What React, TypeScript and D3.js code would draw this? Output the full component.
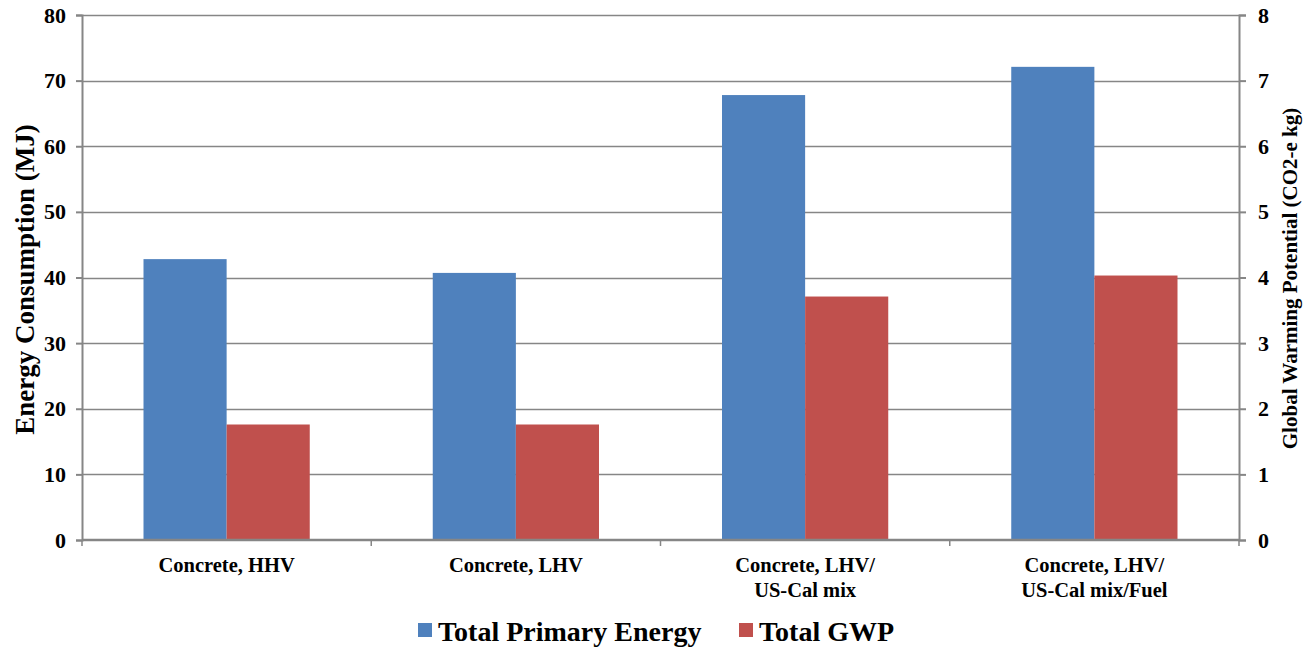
import { useEffect, useRef } from 'react';
import * as d3 from 'd3';

const categories = [
  ['Concrete, HHV'],
  ['Concrete, LHV'],
  ['Concrete, LHV/', 'US-Cal mix'],
  ['Concrete, LHV/', 'US-Cal mix/Fuel'],
];
const energyValues = [42.8, 40.7, 67.8, 72.1];
const gwpValues = [1.76, 1.76, 3.71, 4.03];
const leftTicks = [0, 10, 20, 30, 40, 50, 60, 70, 80];
const rightTicks = [0, 1, 2, 3, 4, 5, 6, 7, 8];

const WIDTH = 1311;
const HEIGHT = 651;
const BLUE = '#4F81BD';
const RED = '#C0504D';
const GRID = '#868686';
const FONT = 'Liberation Serif';

export default function App() {
  const svgRef = useRef<SVGSVGElement>(null);

  useEffect(() => {
    if (!svgRef.current) return;
    const svg = d3.select(svgRef.current);
    svg.selectAll('*').remove();

    const margin = { top: 15, right: 72, bottom: 111, left: 82 };
    const innerWidth = WIDTH - margin.left - margin.right;
    const innerHeight = HEIGHT - margin.top - margin.bottom;
    const g = svg.append('g').attr('transform', `translate(${margin.left},${margin.top})`);

    const idx = categories.map((_, i) => String(i));
    const x0 = d3.scaleBand().domain(idx).range([0, innerWidth]).paddingInner(0).paddingOuter(0);
    const groupPad = 61.5;
    const barW = (x0.bandwidth() - groupPad * 2) / 2;

    const yLeft = d3.scaleLinear().domain([0, 80]).range([innerHeight, 0]);
    const yRight = d3.scaleLinear().domain([0, 8]).range([innerHeight, 0]);

    // gridlines
    g.selectAll('.grid')
      .data(leftTicks.filter((d) => d > 0))
      .enter()
      .append('line')
      .attr('x1', 0)
      .attr('x2', innerWidth)
      .attr('y1', (d) => Math.round(yLeft(d)) + 0.5)
      .attr('y2', (d) => Math.round(yLeft(d)) + 0.5)
      .attr('stroke', GRID)
      .attr('stroke-width', 1.5);

    // bars
    energyValues.forEach((v, i) => {
      const bx = (x0(String(i)) as number) + groupPad;
      g.append('rect')
        .attr('x', bx)
        .attr('y', yLeft(v))
        .attr('width', barW)
        .attr('height', innerHeight - yLeft(v))
        .attr('fill', BLUE);
      const gv = gwpValues[i];
      g.append('rect')
        .attr('x', bx + barW)
        .attr('y', yRight(gv))
        .attr('width', barW)
        .attr('height', innerHeight - yRight(gv))
        .attr('fill', RED);
    });

    // left axis
    const leftAxis = g.append('g').call(
      d3.axisLeft(yLeft).tickValues(leftTicks).tickSize(6).tickPadding(10).tickFormat((d) => String(d))
    );
    // right axis
    const rightAxis = g
      .append('g')
      .attr('transform', `translate(${innerWidth},0)`)
      .call(d3.axisRight(yRight).tickValues(rightTicks).tickSize(7).tickPadding(12).tickFormat((d) => String(d)));
    [leftAxis, rightAxis].forEach((ax) => {
      ax.attr('font-family', null).attr('font-size', null);
      ax.selectAll('text')
        .style('font-family', FONT)
        .style('font-weight', 'bold')
        .style('font-size', '22px')
        .attr('fill', '#000');
    });

    // bottom axis with boundary ticks
    const bottom = g.append('g').attr('transform', `translate(0,${innerHeight})`);
    bottom
      .append('line')
      .attr('x1', 0)
      .attr('x2', innerWidth)
      .attr('stroke', GRID)
      .attr('stroke-width', 2.5);
    const bounds = idx.map((d) => x0(d) as number).concat([innerWidth]);
    bottom
      .selectAll('.btick')
      .data(bounds)
      .enter()
      .append('line')
      .attr('x1', (d) => d)
      .attr('x2', (d) => d)
      .attr('y1', 0)
      .attr('y2', 6)
      .attr('stroke', GRID)
      .attr('stroke-width', 1.5);

    bottom
      .selectAll('.cat')
      .data(categories)
      .enter()
      .append('text')
      .attr('x', (_, i) => (x0(String(i)) as number) + x0.bandwidth() / 2)
      .attr('y', 32)
      .attr('text-anchor', 'middle')
      .style('font-family', FONT)
      .style('font-weight', 'bold')
      .style('font-size', '20.5px')
      .each(function (lines) {
        lines.forEach((l, k) => {
          d3.select(this)
            .append('tspan')
            .attr('x', d3.select(this).attr('x'))
            .attr('dy', k === 0 ? 0 : 25)
            .text(l);
        });
      });

    g.selectAll('.domain, .tick line').attr('stroke', GRID).attr('stroke-width', 2);

    // axis titles
    svg
      .append('text')
      .attr('transform', `translate(34,${margin.top + innerHeight / 2 + 2}) rotate(-90)`)
      .attr('text-anchor', 'middle')
      .style('font-family', FONT)
      .style('font-weight', 'bold')
      .style('font-size', '27px')
      .text('Energy Consumption (MJ)');

    svg
      .append('text')
      .attr('transform', `translate(1297,${margin.top + innerHeight / 2 + 1}) rotate(-90)`)
      .attr('text-anchor', 'middle')
      .style('font-family', FONT)
      .style('font-weight', 'bold')
      .style('font-size', '21px')
      .text('Global Warming Potential (CO2-e kg)');

    // legend
    const legend = [
      { label: 'Total Primary Energy', color: BLUE, x: 418 },
      { label: 'Total GWP', color: RED, x: 739 },
    ];
    const lg = svg.append('g');
    legend.forEach((l) => {
      lg.append('rect').attr('x', l.x).attr('y', 623).attr('width', 14).attr('height', 14).attr('fill', l.color);
      lg.append('text')
        .attr('x', l.x + 20)
        .attr('y', 641)
        .style('font-family', FONT)
        .style('font-weight', 'bold')
        .style('font-size', '28px')
        .text(l.label);
    });
  }, []);

  return (
    <div style={{ position: 'absolute', left: 0, top: 0 }}>
      <svg ref={svgRef} width={WIDTH} height={HEIGHT} style={{ display: 'block', background: '#fff' }} />
    </div>
  );
}
